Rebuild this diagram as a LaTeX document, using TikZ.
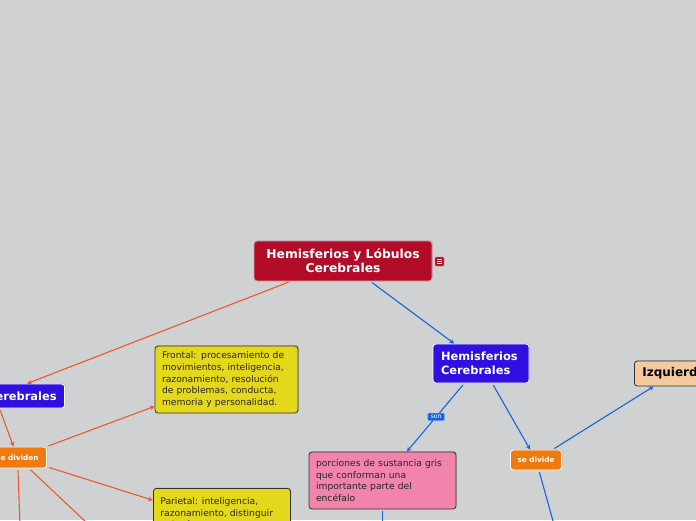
\documentclass[tikz,border=0pt]{standalone}
\usepackage{fontspec}
\setmainfont{DejaVu Sans}
\usepackage{tikz}
\usetikzlibrary{arrows,shadows}
\definecolor{bggray}{RGB}{208,209,211}
\definecolor{rootred}{RGB}{179,12,40}
\definecolor{topicblue}{RGB}{48,16,224}
\definecolor{linkorange}{RGB}{238,122,16}
\definecolor{noteyellow}{RGB}{229,216,28}
\definecolor{notepink}{RGB}{242,131,173}
\definecolor{notepeach}{RGB}{245,201,160}
\definecolor{edgered}{RGB}{240,88,42}
\definecolor{edgeblue}{RGB}{20,100,220}
\definecolor{boxline}{RGB}{50,50,50}
\tikzstyle{mm} = [rectangle, rounded corners=3pt, line width=0.8pt]
\tikzstyle{sh} = [drop shadow={shadow xshift=1pt, shadow yshift=1pt, opacity=0.25}]
\tikzstyle{rootbox} = [mm, sh, fill=rootred, draw=white!60!rootred, text=white, align=center, font=\bfseries\fontsize{12.3}{14}\selectfont, minimum width=178pt, minimum height=40pt]
\tikzstyle{topicbox} = [mm, sh, fill=topicblue, draw=white, text=white, align=left, inner xsep=8pt, font=\bfseries\fontsize{11.4}{14}\selectfont]
\tikzstyle{linkbox} = [mm, sh, fill=linkorange, draw=white, text=white, inner xsep=7pt, minimum height=20pt, font=\bfseries\fontsize{7.3}{9}\selectfont]
\tikzstyle{notebox} = [mm, sh, draw=boxline, text=black!85, align=left, inner xsep=7pt, inner ysep=4pt, font=\fontsize{9.2}{11.7}\selectfont]
\tikzstyle{sonlabel} = [rectangle, rounded corners=1pt, fill=edgeblue, draw=white!40!edgeblue, line width=0.4pt, text=white, inner xsep=3pt, inner ysep=2pt, font=\fontsize{6}{7}\selectfont]
\tikzstyle{er} = [draw=edgered, line width=1.1pt, -stealth, shorten <=2pt]
\tikzstyle{eb} = [draw=edgeblue, line width=1.1pt, -stealth, shorten <=2pt]

\begin{document}
\begin{tikzpicture}[yscale=-1]
	\useasboundingbox (0pt,0pt) rectangle (696pt,520pt);
	\clip (0pt,0pt) rectangle (696pt,520pt);
	\fill[bggray] (0pt,0pt) rectangle (696pt,520pt);
	\node[rootbox] (root) at (343pt,261pt) {Hemisferios y Lóbulos\\Cerebrales};
	\node[rectangle, rounded corners=1pt, fill=rootred, draw=white!50!rootred, line width=0.4pt, minimum size=9pt, inner sep=0pt] (rooticon) at (439.5pt,261.5pt) {};
	\foreach \dy in {-2,0,2}
		\draw[white, line width=0.8pt] ([xshift=-2.3pt,yshift=\dy pt]rooticon.center) -- ++(4.6pt,0pt);
	\node[topicbox, minimum height=24pt, anchor=east] (lobulos) at (65pt,396pt) {Lóbulos Cerebrales};
	\node[topicbox, text width=80pt, minimum height=39pt] (hemis) at (481pt,363.5pt) {Hemisferios\\Cerebrales};
	\node[linkbox, inner xsep=8pt, minimum height=21pt, anchor=east] (sedividen) at (47pt,457.5pt) {se dividen};
	\node[linkbox] (sedivide) at (536pt,460pt) {se divide};
	\node[notebox, fill=noteyellow, text width=129pt, minimum height=67pt] (frontal) at (226.5pt,379.5pt) {Frontal: procesamiento de\\movimientos, inteligencia,\\razonamiento, resolución\\de problemas, conducta,\\memoria y personalidad.};
	\node[notebox, fill=noteyellow, inner ysep=9pt, anchor=north west] (parietal) at (153pt,488pt) {\parbox[c][49pt][t]{123pt}{Parietal: inteligencia,\\razonamiento, distinguir\\entre los}};
	\node[notebox, fill=notepink, text width=133pt, minimum height=57pt] (porciones) at (382.5pt,480.5pt) {porciones de sustancia gris\\que conforman una\\importante parte del\\encéfalo};
	\node[mm, sh, fill=notepeach, draw=boxline, text=black, inner xsep=8pt, minimum height=25pt, font=\bfseries\fontsize{12}{14}\selectfont, anchor=west] (izquierdo) at (634pt,373.5pt) {Izquierdo};
	\coordinate (lobdiag) at (140pt,573pt);
	\coordinate (lobdown) at (22pt,580pt);
	\coordinate (hemdown) at (575pt,600pt);
	\coordinate (pordown) at (382.5pt,600pt);
	\draw[er] (root) -- (lobulos);
	\draw[er] (lobulos) -- (sedividen);
	\draw[er] (sedividen) -- (frontal);
	\draw[er] (sedividen) -- (parietal);
	\draw[er] (sedividen) -- (lobdiag);
	\draw[er] (sedividen) -- (lobdown);
	\draw[eb] (root) -- (hemis);
	\draw[eb] (hemis) -- node[sonlabel, pos=0.49] {son} (porciones);
	\draw[eb] (hemis) -- (sedivide);
	\draw[eb] (sedivide) -- (izquierdo);
	\draw[eb] (sedivide) -- (hemdown);
	\draw[eb] (porciones) -- (pordown);
\end{tikzpicture}
\end{document}
